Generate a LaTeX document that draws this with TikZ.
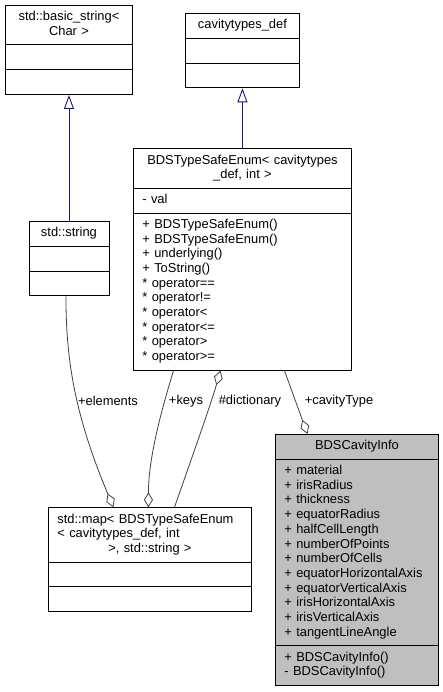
\documentclass[tikz,border=0pt]{standalone}
\usepackage{fontspec}
\setmainfont{Liberation Sans}
\usetikzlibrary{shapes.multipart, arrows.meta, positioning}

\definecolor{azulherencia}{HTML}{191970}
\definecolor{grisarista}{HTML}{404040}
\definecolor{grisclase}{HTML}{BFBFBF}
\setlength{\parindent}{0pt}

\begin{document}
\begin{tikzpicture}[x=1pt, y=-1pt, font=\fontsize{12.9}{14.7}\selectfont,
                  clase/.style={draw=black, line width=0.9pt, fill=white,
                  rectangle split, rectangle split parts=3, anchor=north west,
                  inner xsep=9pt, inner ysep=4.6pt},
                  herencia/.style={draw=azulherencia, line width=0.9pt,
                  -{Triangle[open, length=14pt, width=10pt]}},
                  agregado/.style={draw=grisarista, line width=0.8pt,
                  -{Diamond[open, length=15pt, width=9pt]}},
                  etiqueta/.style={inner sep=0pt}]

                  \useasboundingbox (0,0) rectangle (443,692);

                  % Colocamos las clases del diagrama.
                  \node[clase, text width=109pt] (A) at (5,5)
                  {\centering\strut std::basic\_string<\\\strut Char >\par
                  \nodepart{two}\strut \nodepart{three}\strut};
                  \node[clase, text width=96pt] (B) at (185,13)
                  {\centering\strut cavitytypes\_def\par
                  \nodepart{two}\strut \nodepart{three}\strut};
                  \node[clase, text width=62pt, below=126pt of A] (D)
                  {\centering\strut std::string\par
                  \nodepart{two}\strut \nodepart{three}\strut};
                  \node[clase, text width=200pt, below=60pt of B] (C)
                  {\centering\strut BDSTypeSafeEnum< cavitytypes\\\strut\_def, int >\par
                  \nodepart{two}\raggedright\strut - val\par
                  \nodepart{three}\raggedright\strut + BDSTypeSafeEnum()\\
                  \strut + BDSTypeSafeEnum()\\\strut + underlying()\\
                  \strut + ToString()\\\strut * operator==\\\strut * operator!=\\
                  \strut * operator<\\\strut * operator<=\\\strut * operator>\\
                  \strut * operator>=\par};
                  \node[clase, text width=145pt, fill=grisclase] (E) at (275,434)
                  {\centering\strut BDSCavityInfo\par
                  \nodepart{two}\raggedright\strut + material\\\strut + irisRadius\\
                  \strut + thickness\\\strut + equatorRadius\\\strut + halfCellLength\\
                  \strut + numberOfPoints\\\strut + numberOfCells\\
                  \strut + equatorHorizontalAxis\\\strut + equatorVerticalAxis\\
                  \strut + irisHorizontalAxis\\\strut + irisVerticalAxis\\
                  \strut + tangentLineAngle\par
                  \nodepart{three}\raggedright\strut + BDSCavityInfo()\\
                  \strut - BDSCavityInfo()\par};
                  \node[clase, text width=185pt] (F) at (48,507.3)
                  {\raggedright\strut std::map< BDSTypeSafeEnum\\
                  \strut < cavitytypes\_def, int\par\centering\strut >, std::string >\par
                  \nodepart{two}\strut \nodepart{three}\strut};

                  % Dibujamos las herencias.
                  \draw[herencia] (D.north) -- (A.south);
                  \draw[herencia] (C.north) -- (B.south);

                  % Dibujamos las agregaciones y sus etiquetas.
                  \draw[agregado] ([xshift=-3pt]D.south) .. controls +(0,60)
                  and +(-40,-95) .. ([xshift=-36.5pt]F.north);
                  \draw[agregado] ([xshift=-69pt]C.south) .. controls +(-12,40)
                  and +(0,-50) .. ([xshift=-1.5pt]F.north);
                  \draw[agregado] ([xshift=24.5pt]F.north) .. controls +(14,-40)
                  and +(-10,35) .. ([xshift=-22pt]C.south);
                  \draw[agregado] ([xshift=42pt]C.south) -- ([xshift=-49.5pt]E.north);

                  \node[etiqueta] (lelem) at (108,401) {+elements};
                  \node[etiqueta] (lkeys) at (186,401) {+keys};
                  \node[etiqueta] (ldict) at (250,401) {\#dictionary};
                  \node[etiqueta] (ltipo) at (339,401) {+cavityType};

                \end{tikzpicture}
\end{document}
